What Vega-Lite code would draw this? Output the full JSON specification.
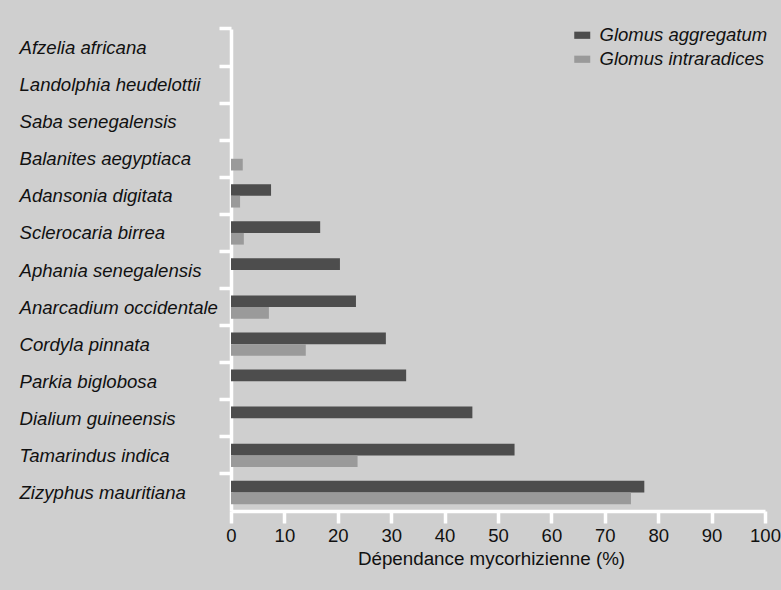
{
  "$schema": "https://vega.github.io/schema/vega-lite/v6.json",
  "autosize": {"type": "none"},
  "width": 534,
  "height": 482,
  "padding": {"left": 231, "top": 29, "right": 16, "bottom": 79},
  "background": "#cfcfcf",
  "config": {
    "view": {"stroke": null},
    "font": "Liberation Sans",
    "axis": {"grid": false}
  },
  "data": {
    "values": [
      {"species": "Balanites aegyptiaca", "fungus": "Glomus intraradices", "value": 2.2},
      {"species": "Adansonia digitata", "fungus": "Glomus aggregatum", "value": 7.5},
      {"species": "Adansonia digitata", "fungus": "Glomus intraradices", "value": 1.7},
      {"species": "Sclerocaria birrea", "fungus": "Glomus aggregatum", "value": 16.7},
      {"species": "Sclerocaria birrea", "fungus": "Glomus intraradices", "value": 2.4},
      {"species": "Aphania senegalensis", "fungus": "Glomus aggregatum", "value": 20.4},
      {"species": "Anarcadium occidentale", "fungus": "Glomus aggregatum", "value": 23.4},
      {"species": "Anarcadium occidentale", "fungus": "Glomus intraradices", "value": 7.1},
      {"species": "Cordyla pinnata", "fungus": "Glomus aggregatum", "value": 29.0},
      {"species": "Cordyla pinnata", "fungus": "Glomus intraradices", "value": 14.0},
      {"species": "Parkia biglobosa", "fungus": "Glomus aggregatum", "value": 32.8},
      {"species": "Dialium guineensis", "fungus": "Glomus aggregatum", "value": 45.2},
      {"species": "Tamarindus indica", "fungus": "Glomus aggregatum", "value": 53.1},
      {"species": "Tamarindus indica", "fungus": "Glomus intraradices", "value": 23.7},
      {"species": "Zizyphus mauritiana", "fungus": "Glomus aggregatum", "value": 77.4},
      {"species": "Zizyphus mauritiana", "fungus": "Glomus intraradices", "value": 74.9}
    ]
  },
  "mark": {"type": "bar", "cornerRadius": 0},
  "encoding": {
    "y": {
      "field": "species",
      "type": "nominal",
      "scale": {
        "domain": ["Afzelia africana", "Landolphia heudelottii", "Saba senegalensis", "Balanites aegyptiaca", "Adansonia digitata", "Sclerocaria birrea", "Aphania senegalensis", "Anarcadium occidentale", "Cordyla pinnata", "Parkia biglobosa", "Dialium guineensis", "Tamarindus indica", "Zizyphus mauritiana"],
        "paddingInner": 0,
        "paddingOuter": 0
      },
      "axis": {
        "title": null,
        "bandPosition": 0,
        "domainColor": "white",
        "domainWidth": 3.5,
        "tickColor": "white",
        "tickWidth": 3.5,
        "tickSize": 12,
        "labelAlign": "left",
        "labelPadding": 200,
        "labelOffset": 0.5,
        "labelLimit": 0,
        "labelFont": "Liberation Sans",
        "labelFontStyle": "italic",
        "labelFontSize": 18.6,
        "labelColor": "#111111"
      }
    },
    "yOffset": {
      "field": "fungus",
      "type": "nominal",
      "scale": {"domain": ["Glomus aggregatum", "Glomus intraradices"], "paddingInner": 0, "paddingOuter": 0.585}
    },
    "x": {
      "field": "value",
      "type": "quantitative",
      "scale": {"domain": [0, 100], "nice": false},
      "axis": {
        "title": "Dépendance mycorhizienne (%)",
        "values": [0, 10, 20, 30, 40, 50, 60, 70, 80, 90, 100],
        "domainColor": "white",
        "domainWidth": 3.5,
        "tickColor": "white",
        "tickWidth": 3.5,
        "tickSize": 12,
        "labelPadding": 3,
        "labelFontSize": 18.5,
        "labelColor": "#111111",
        "labelFlush": false,
        "titleFontSize": 18.8,
        "titleFontWeight": "normal",
        "titleColor": "#111111",
        "titlePadding": 5,
        "titleX": 260,
        "titleAlign": "center"
      }
    },
    "color": {
      "field": "fungus",
      "type": "nominal",
      "scale": {"domain": ["Glomus aggregatum", "Glomus intraradices"], "range": ["#4d4d4d", "#9a9a9a"]},
      "legend": {
        "title": null,
        "orient": "none",
        "legendX": 342,
        "legendY": -3,
        "symbolType": "M-1,-0.45H1V0.45H-1Z",
        "symbolSize": 256,
        "symbolStrokeWidth": 0,
        "labelOffset": 8,
        "labelFontSize": 18.5,
        "labelFontStyle": "italic",
        "labelColor": "#111111",
        "labelLimit": 0,
        "rowPadding": 5,
        "padding": 0
      }
    }
  }
}
